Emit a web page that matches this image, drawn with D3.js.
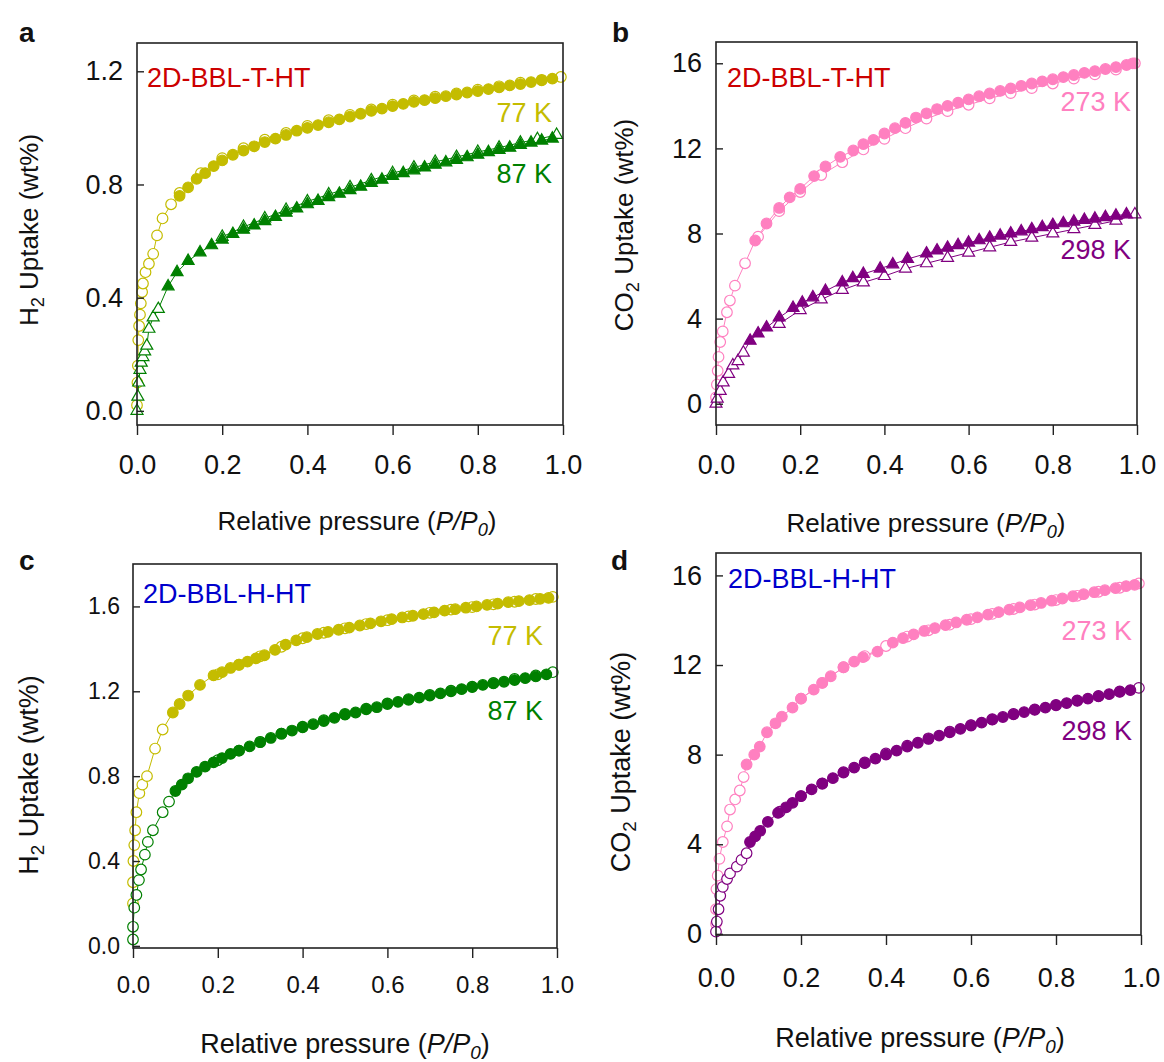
<!DOCTYPE html>
<html><head><meta charset="utf-8">
<script src="https://cdn.jsdelivr.net/npm/d3@7"></script>
<style>body{margin:0;background:#fff}svg{display:block;font-family:Arial,"Liberation Sans",sans-serif}</style>
</head><body><svg id="c" width="1164" height="1062"></svg>
<script>
// ---------- tick values ----------
const xTicks = [0, 0.2, 0.4, 0.6, 0.8, 1.0];
const yTicksA = [0, 0.4, 0.8, 1.2];
const yTicksC = [0, 0.4, 0.8, 1.2, 1.6];
const yTicksCO2 = [0, 4, 8, 12, 16];

// ---------- panel a: H2, 2D-BBL-T-HT ----------
const a77Low = [[0.0,0.02],[0.001,0.1],[0.002,0.16],[0.003,0.25],[0.005,0.3],[0.007,0.34],[0.009,0.38],[0.012,0.42],[0.014,0.45],[0.02,0.49],[0.028,0.52],[0.038,0.555],[0.047,0.62],[0.06,0.68],[0.08,0.73]];
const a77Ads = [[0.1,0.76],[0.12,0.79],[0.14,0.82],[0.16,0.84],[0.18,0.865],[0.2,0.885],[0.225,0.905],[0.25,0.92],[0.275,0.935],[0.3,0.95],[0.325,0.962],[0.35,0.975],[0.375,0.99],[0.4,1.0],[0.425,1.01],[0.45,1.02],[0.475,1.03],[0.5,1.04],[0.525,1.05],[0.55,1.06],[0.575,1.068],[0.6,1.077],[0.625,1.085],[0.65,1.092],[0.675,1.098],[0.7,1.105],[0.725,1.112],[0.75,1.118],[0.775,1.125],[0.8,1.13],[0.825,1.137],[0.85,1.143],[0.875,1.15],[0.9,1.155],[0.925,1.162],[0.95,1.168],[0.975,1.174]];
const a77Des = [[0.995,1.18],[0.95,1.17],[0.9,1.16],[0.85,1.147],[0.8,1.135],[0.75,1.122],[0.7,1.11],[0.65,1.097],[0.6,1.082],[0.55,1.065],[0.5,1.046],[0.45,1.027],[0.4,1.007],[0.35,0.982],[0.3,0.958],[0.25,0.928],[0.2,0.893],[0.15,0.84],[0.1,0.77]];
const a87Low = [[0.0,0.0],[0.002,0.05],[0.004,0.1],[0.007,0.145],[0.01,0.17],[0.014,0.19],[0.018,0.21],[0.023,0.23],[0.028,0.29],[0.038,0.33],[0.05,0.36]];
const a87Ads = [[0.073,0.44],[0.094,0.49],[0.12,0.53],[0.148,0.56],[0.175,0.585],[0.2,0.605],[0.225,0.625],[0.25,0.64],[0.275,0.655],[0.3,0.67],[0.325,0.685],[0.35,0.7],[0.375,0.715],[0.4,0.73],[0.425,0.742],[0.45,0.755],[0.475,0.767],[0.5,0.78],[0.525,0.792],[0.55,0.805],[0.575,0.817],[0.6,0.83],[0.625,0.84],[0.65,0.85],[0.675,0.86],[0.7,0.87],[0.725,0.878],[0.75,0.887],[0.775,0.896],[0.8,0.905],[0.825,0.914],[0.85,0.922],[0.875,0.93],[0.9,0.94],[0.925,0.948],[0.95,0.955],[0.975,0.962]];
const a87Des = [[0.985,0.975],[0.94,0.96],[0.9,0.948],[0.85,0.93],[0.8,0.915],[0.75,0.897],[0.7,0.88],[0.65,0.86],[0.6,0.84],[0.55,0.815],[0.5,0.79],[0.45,0.765],[0.4,0.74],[0.35,0.71],[0.3,0.68],[0.25,0.65],[0.2,0.615]];

// ---------- panel b: CO2, 2D-BBL-T-HT ----------
const b273Low = [[0.0,0.3],[0.002,0.9],[0.004,1.55],[0.006,2.2],[0.01,2.9],[0.016,3.4],[0.026,4.3],[0.033,4.85],[0.045,5.55],[0.069,6.6]];
const b273Ads = [[0.093,7.67],[0.12,8.47],[0.15,9.2],[0.175,9.7],[0.2,10.1],[0.233,10.7],[0.26,11.15],[0.295,11.6],[0.326,11.9],[0.35,12.2],[0.374,12.4],[0.4,12.7],[0.425,12.95],[0.45,13.2],[0.475,13.45],[0.5,13.65],[0.525,13.85],[0.55,14.0],[0.575,14.15],[0.6,14.3],[0.625,14.45],[0.65,14.58],[0.675,14.7],[0.7,14.82],[0.725,14.94],[0.75,15.05],[0.775,15.15],[0.8,15.25],[0.825,15.35],[0.85,15.45],[0.875,15.55],[0.9,15.63],[0.925,15.73],[0.95,15.82],[0.975,15.92],[0.99,16.0]];
const b273Des = [[0.995,16.0],[0.95,15.7],[0.9,15.48],[0.85,15.28],[0.8,15.05],[0.75,14.83],[0.7,14.6],[0.65,14.35],[0.6,14.05],[0.55,13.75],[0.5,13.4],[0.45,12.95],[0.4,12.45],[0.35,11.95],[0.3,11.35],[0.25,10.75],[0.2,9.95],[0.15,9.05],[0.1,7.85]];
const b298Low = [[0.0,0.0],[0.003,0.24],[0.01,0.6],[0.017,1.0],[0.03,1.4],[0.04,1.8],[0.052,2.0],[0.065,2.4]];
const b298Ads = [[0.081,2.96],[0.1,3.3],[0.12,3.58],[0.15,4.05],[0.183,4.5],[0.205,4.75],[0.23,5.0],[0.26,5.3],[0.3,5.7],[0.325,5.9],[0.35,6.1],[0.39,6.35],[0.42,6.55],[0.455,6.8],[0.5,7.06],[0.525,7.2],[0.55,7.33],[0.575,7.45],[0.6,7.57],[0.625,7.68],[0.65,7.8],[0.675,7.9],[0.7,8.0],[0.725,8.1],[0.75,8.2],[0.775,8.3],[0.8,8.4],[0.825,8.48],[0.85,8.56],[0.875,8.64],[0.9,8.7],[0.925,8.77],[0.95,8.84],[0.975,8.9]];
const b298Des = [[0.995,8.9],[0.95,8.6],[0.9,8.4],[0.85,8.2],[0.8,8.0],[0.75,7.8],[0.7,7.6],[0.65,7.35],[0.6,7.1],[0.55,6.85],[0.5,6.6],[0.45,6.35],[0.4,6.0],[0.35,5.7],[0.3,5.35],[0.25,4.9],[0.2,4.4],[0.15,3.75]];

// ---------- panel c: H2, 2D-BBL-H-HT ----------
const c77Low = [[0.0,0.2],[0.0,0.3],[0.001,0.4],[0.003,0.475],[0.005,0.545],[0.008,0.63],[0.015,0.72],[0.022,0.76],[0.033,0.8],[0.052,0.93],[0.07,1.02]];
const c77Ads = [[0.094,1.1],[0.11,1.14],[0.13,1.18],[0.158,1.23],[0.19,1.275],[0.21,1.29],[0.23,1.31],[0.25,1.325],[0.27,1.34],[0.29,1.355],[0.31,1.37],[0.335,1.395],[0.36,1.42],[0.385,1.44],[0.41,1.455],[0.435,1.47],[0.46,1.48],[0.485,1.49],[0.51,1.5],[0.535,1.51],[0.56,1.52],[0.585,1.53],[0.61,1.54],[0.635,1.548],[0.66,1.556],[0.685,1.564],[0.71,1.572],[0.735,1.58],[0.76,1.587],[0.785,1.594],[0.81,1.6],[0.835,1.607],[0.86,1.613],[0.885,1.62],[0.91,1.625],[0.935,1.63],[0.96,1.636],[0.98,1.64]];
const c77Des = [[0.99,1.645],[0.95,1.635],[0.9,1.622],[0.85,1.61],[0.8,1.597],[0.75,1.585],[0.7,1.57],[0.65,1.553],[0.6,1.535],[0.55,1.517],[0.5,1.497],[0.45,1.476],[0.4,1.45],[0.35,1.41],[0.3,1.365],[0.25,1.325],[0.2,1.28]];
const c87Low = [[0.0,0.03],[0.0,0.09],[0.003,0.18],[0.008,0.24],[0.014,0.31],[0.019,0.36],[0.028,0.43],[0.035,0.49],[0.047,0.545],[0.07,0.63],[0.085,0.68]];
const c87Ads = [[0.1,0.73],[0.115,0.76],[0.13,0.79],[0.15,0.82],[0.17,0.845],[0.19,0.865],[0.21,0.885],[0.23,0.905],[0.25,0.92],[0.275,0.94],[0.3,0.96],[0.325,0.98],[0.35,1.0],[0.375,1.015],[0.4,1.03],[0.425,1.045],[0.45,1.06],[0.475,1.075],[0.5,1.09],[0.525,1.1],[0.55,1.115],[0.575,1.125],[0.6,1.14],[0.625,1.15],[0.65,1.16],[0.675,1.17],[0.7,1.18],[0.725,1.19],[0.75,1.2],[0.775,1.21],[0.8,1.22],[0.825,1.23],[0.85,1.237],[0.875,1.245],[0.9,1.253],[0.925,1.262],[0.95,1.27],[0.975,1.28]];
const c87Des = [[0.99,1.29],[0.95,1.275],[0.9,1.258],[0.85,1.24],[0.8,1.222],[0.75,1.203],[0.7,1.183],[0.65,1.163],[0.6,1.143],[0.55,1.118],[0.5,1.093],[0.45,1.064],[0.4,1.033],[0.35,1.0],[0.3,0.962],[0.25,0.92],[0.2,0.875]];

// ---------- panel d: CO2, 2D-BBL-H-HT ----------
const d273Low = [[0.0,0.45],[0.0,1.1],[0.001,2.0],[0.004,2.6],[0.008,3.35],[0.016,4.1],[0.026,4.8],[0.033,5.55],[0.045,6.0],[0.056,6.4],[0.065,7.0]];
const d273Ads = [[0.072,7.56],[0.09,8.0],[0.103,8.36],[0.12,9.0],[0.14,9.4],[0.155,9.7],[0.18,10.1],[0.2,10.5],[0.23,10.9],[0.25,11.2],[0.27,11.5],[0.3,11.9],[0.325,12.15],[0.346,12.35],[0.38,12.6],[0.416,13.0],[0.44,13.2],[0.465,13.37],[0.49,13.52],[0.515,13.65],[0.54,13.78],[0.565,13.9],[0.59,14.02],[0.615,14.13],[0.64,14.25],[0.665,14.36],[0.69,14.47],[0.715,14.57],[0.74,14.67],[0.765,14.77],[0.79,14.87],[0.815,14.97],[0.84,15.07],[0.865,15.16],[0.89,15.25],[0.915,15.34],[0.94,15.43],[0.965,15.52],[0.985,15.58]];
const d273Des = [[0.995,15.64],[0.95,15.45],[0.9,15.27],[0.85,15.09],[0.8,14.9],[0.75,14.7],[0.7,14.5],[0.65,14.28],[0.6,14.05],[0.55,13.8],[0.5,13.55],[0.45,13.27],[0.4,12.85],[0.35,12.4],[0.3,11.9],[0.25,11.2],[0.2,10.5]];
const d298Low = [[0.0,0.1],[0.002,0.55],[0.006,1.1],[0.01,1.7],[0.016,2.1],[0.026,2.45],[0.033,2.7],[0.049,3.0],[0.06,3.3],[0.072,3.6]];
const d298Ads = [[0.08,4.1],[0.092,4.35],[0.104,4.6],[0.122,5.0],[0.146,5.4],[0.165,5.65],[0.18,5.85],[0.2,6.15],[0.225,6.45],[0.25,6.7],[0.275,6.95],[0.3,7.2],[0.325,7.42],[0.35,7.62],[0.375,7.82],[0.4,8.0],[0.425,8.18],[0.45,8.36],[0.475,8.53],[0.5,8.7],[0.525,8.85],[0.55,9.0],[0.575,9.15],[0.6,9.3],[0.625,9.43],[0.65,9.56],[0.675,9.68],[0.7,9.8],[0.725,9.9],[0.75,10.0],[0.775,10.1],[0.8,10.2],[0.825,10.3],[0.85,10.4],[0.875,10.5],[0.9,10.6],[0.925,10.7],[0.95,10.8],[0.975,10.88]];
const d298Des = [[0.995,10.98],[0.95,10.82],[0.9,10.62],[0.85,10.42],[0.8,10.22],[0.75,10.02],[0.7,9.82],[0.65,9.58],[0.6,9.32],[0.55,9.03],[0.5,8.73],[0.45,8.4],[0.4,8.05],[0.35,7.65],[0.3,7.22],[0.25,6.72],[0.2,6.15],[0.15,5.45]];

// ---------- colours ----------
const YEL = "#c4bc00", GRN = "#008000", PNK = "#ff80c0", PUR = "#800080";

const svg = d3.select("#c");

function panel(p) {
  const g = svg.append("g");
  const x = d3.scaleLinear().domain([0, 1]).range([p.x0, p.x1]);
  const y = d3.scaleLinear().domain(p.yDom).range([p.y1, p.y0]);

  // series
  const line = d3.line().x(d => x(d[0])).y(d => y(d[1]));
  p.series.forEach(s => {
    const ads = s.low.concat(s.ads);
    g.append("path").attr("d", line(ads)).attr("fill", "none").attr("stroke", s.color).attr("stroke-width", 1);
    g.append("path").attr("d", line(s.des)).attr("fill", "none").attr("stroke", s.color).attr("stroke-width", 1);
    const draw = (data, filled) => {
      if (s.shape === "tri") {
        g.selectAll(null).data(data).enter().append("path")
          .attr("d", d3.symbol(d3.symbolTriangle, 62)())
          .attr("transform", d => `translate(${x(d[0])},${y(d[1])})`)
          .attr("fill", filled ? s.color : "#fff").attr("stroke", s.color).attr("stroke-width", 1.2);
      } else {
        g.selectAll(null).data(data).enter().append("circle")
          .attr("cx", d => x(d[0])).attr("cy", d => y(d[1])).attr("r", 5.3)
          .attr("fill", filled ? s.color : "#fff").attr("stroke", s.color).attr("stroke-width", 1.2);
      }
    };
    draw(s.des, false);
    draw(s.low, false);
    draw(s.ads, true);
  });

  // frame
  g.append("rect").attr("x", p.x0).attr("y", p.y0).attr("width", p.x1 - p.x0).attr("height", p.y1 - p.y0)
    .attr("fill", "none").attr("stroke", "#222").attr("stroke-width", 1.6);

  // x axis
  const xa = d3.axisBottom(x).tickValues(xTicks).tickSize(10).tickPadding(p.xPad).tickFormat(d3.format(".1f"));
  const gx = g.append("g").attr("transform", `translate(0,${p.y1})`).call(xa);
  gx.select(".domain").remove();
  gx.selectAll("line").attr("stroke", "#222").attr("stroke-width", 1.4);
  gx.selectAll("text").attr("font-size", p.xfs).attr("fill", "#111").attr("font-family", "Arial, 'Liberation Sans'");

  // y axis (inward ticks)
  const ya = d3.axisLeft(y).tickValues(p.yTicks).tickSize(-7).tickPadding(p.yPad).tickFormat(p.yFmt);
  const gy = g.append("g").attr("transform", `translate(${p.x0},0)`).call(ya);
  gy.select(".domain").remove();
  gy.selectAll("line").attr("stroke", "#222").attr("stroke-width", 1.4);
  gy.selectAll("text").attr("font-size", p.yfs).attr("fill", "#111").attr("font-family", "Arial, 'Liberation Sans'");

  // panel letter
  svg.append("text").attr("x", p.letter[0]).attr("y", p.letter[1]).text(p.letter[2])
    .attr("font-size", 28).attr("font-weight", "bold").attr("fill", "#111");

  // x title
  const xt = svg.append("text").attr("x", p.xTitle[0]).attr("y", p.xTitle[1]).attr("text-anchor", "middle")
    .attr("font-size", p.tfs).attr("fill", "#111");
  xt.append("tspan").text("Relative pressure (");
  xt.append("tspan").attr("font-style", "italic").text("P/P");
  xt.append("tspan").attr("font-style", "italic").attr("font-size", p.tfs * 0.7).attr("dy", 6).text("0");
  xt.append("tspan").attr("dy", -6).text(")");

  // y title
  const yt = svg.append("text").attr("transform", `translate(${p.yTitle[0]},${p.yTitle[1]}) rotate(-90)`)
    .attr("text-anchor", "middle").attr("font-size", p.tfs).attr("fill", "#111");
  yt.append("tspan").text(p.gas);
  yt.append("tspan").attr("font-size", p.tfs * 0.7).attr("dy", 6).text("2");
  yt.append("tspan").attr("dy", -6).text(" Uptake (wt%)");

  // sample name
  svg.append("text").attr("x", p.name[0]).attr("y", p.name[1]).text(p.name[2])
    .attr("font-size", 27).attr("fill", p.name[3]);
  // temperature labels
  p.temps.forEach(t => {
    svg.append("text").attr("x", t[0]).attr("y", t[1]).attr("text-anchor", "end").text(t[2])
      .attr("font-size", 27).attr("fill", t[3]);
  });
}

panel({
  x0: 137, x1: 563, y0: 43, y1: 425, yDom: [-0.05, 1.3], yTicks: yTicksA, yFmt: d3.format(".1f"),
  xfs: 27, yfs: 27, tfs: 26, xPad: 20, yPad: 14,
  letter: [19, 42, "a"], xTitle: [357, 530], yTitle: [38, 230], gas: "H",
  name: [147, 87, "2D-BBL-T-HT", "#cc0000"],
  temps: [[552, 122, "77 K", YEL], [552, 183, "87 K", GRN]],
  series: [
    {color: YEL, shape: "circ", low: a77Low, ads: a77Ads, des: a77Des},
    {color: GRN, shape: "tri", low: a87Low, ads: a87Ads, des: a87Des}
  ]
});
panel({
  x0: 716, x1: 1137, y0: 42, y1: 425, yDom: [-1, 17], yTicks: yTicksCO2, yFmt: d3.format("d"),
  xfs: 27, yfs: 27, tfs: 26, xPad: 20, yPad: 14,
  letter: [612, 42, "b"], xTitle: [926, 532], yTitle: [633, 225], gas: "CO",
  name: [727, 87, "2D-BBL-T-HT", "#cc0000"],
  temps: [[1131, 111, "273 K", PNK], [1131, 259, "298 K", PUR]],
  series: [
    {color: PNK, shape: "circ", low: b273Low, ads: b273Ads, des: b273Des},
    {color: PUR, shape: "tri", low: b298Low, ads: b298Ads, des: b298Des}
  ]
});
panel({
  x0: 133, x1: 557, y0: 564, y1: 948, yDom: [-0.01, 1.8], yTicks: yTicksC, yFmt: d3.format(".1f"),
  xfs: 24, yfs: 23, tfs: 27, xPad: 18, yPad: 13,
  letter: [19, 570, "c"], xTitle: [345, 1053], yTitle: [38, 775], gas: "H",
  name: [143, 603, "2D-BBL-H-HT", "#0000cc"],
  temps: [[543, 645, "77 K", YEL], [543, 720, "87 K", GRN]],
  series: [
    {color: YEL, shape: "circ", low: c77Low, ads: c77Ads, des: c77Des},
    {color: GRN, shape: "circ", low: c87Low, ads: c87Ads, des: c87Des}
  ]
});
panel({
  x0: 716, x1: 1141, y0: 553, y1: 935, yDom: [-0.05, 17], yTicks: yTicksCO2, yFmt: d3.format("d"),
  xfs: 27, yfs: 27, tfs: 27, xPad: 23, yPad: 14,
  letter: [611, 570, "d"], xTitle: [920, 1047], yTitle: [630, 762], gas: "CO",
  name: [728, 588, "2D-BBL-H-HT", "#0000cc"],
  temps: [[1132, 640, "273 K", PNK], [1132, 740, "298 K", PUR]],
  series: [
    {color: PNK, shape: "circ", low: d273Low, ads: d273Ads, des: d273Des},
    {color: PUR, shape: "circ", low: d298Low, ads: d298Ads, des: d298Des}
  ]
});
</script></body></html>
